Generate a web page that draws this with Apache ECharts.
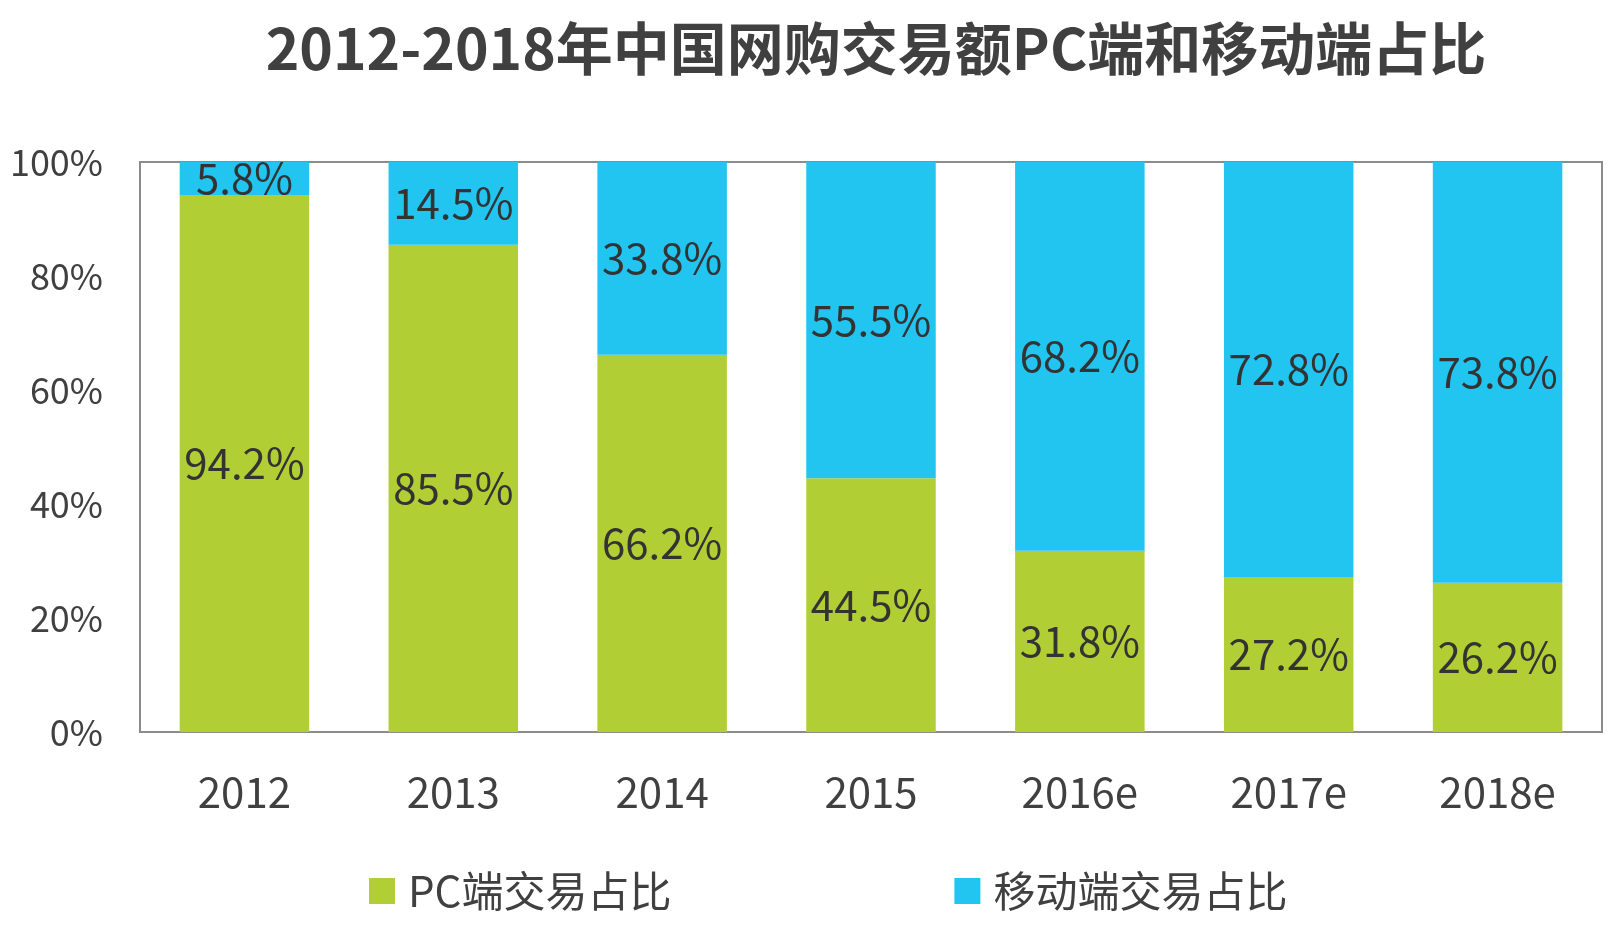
<!DOCTYPE html>
<html>
<head>
<meta charset="utf-8">
<script src="https://cdn.jsdelivr.net/npm/echarts@6/dist/echarts.min.js"></script>
<style>
html,body{margin:0;padding:0;background:#fff;}
#main{width:1616px;height:925px;}
</style>
</head>
<body>
<div id="main"></div>
<script>
const categories = ['2012','2013','2014','2015','2016e','2017e','2018e'];
const pcShare = [94.2, 85.5, 66.2, 44.5, 31.8, 27.2, 26.2];
const mobileShare = [5.8, 14.5, 33.8, 55.5, 68.2, 72.8, 73.8];
const yTicks = [0, 20, 40, 60, 80, 100];
const seriesNames = ['PC端交易占比', '移动端交易占比'];
const titleText = '2012-2018年中国网购交易额PC端和移动端占比';

const FONT = '"Noto Sans CJK SC", "Open Sans", sans-serif';
const chart = echarts.init(document.getElementById('main'));
const labelStyle = {
  show: true,
  position: 'inside',
  color: '#333333',
  fontSize: 42,
  fontFamily: FONT,
  formatter: p => p.value.toFixed(1) + '%'
};
chart.setOption({
  backgroundColor: '#ffffff',
  animation: false,
  title: {
    text: titleText,
    left: 871,
    textAlign: 'center',
    top: 15,
    textStyle: { fontSize: 57, fontWeight: 'bold', color: '#404040', fontFamily: FONT }
  },
  legend: {
    left: 364,
    top: 865,
    itemWidth: 26,
    itemHeight: 26,
    itemGap: 283,
    icon: 'rect',
    textStyle: { fontSize: 42, color: '#404040', fontFamily: FONT, padding: [0, 0, 0, 8] },
    data: seriesNames
  },
  grid: {
    left: 140, right: 14, top: 162, bottom: 193,
    show: true, borderColor: '#8c8c8c', borderWidth: 2, containLabel: false
  },
  xAxis: {
    type: 'category',
    data: categories,
    axisLine: { show: true, lineStyle: { color: '#8c8c8c', width: 2 } },
    axisTick: { show: false },
    axisLabel: { fontSize: 42, color: '#404040', fontFamily: FONT, margin: 39 }
  },
  yAxis: {
    type: 'value',
    min: yTicks[0],
    max: yTicks[yTicks.length - 1],
    interval: 20,
    axisLine: { show: true, lineStyle: { color: '#8c8c8c', width: 2 } },
    axisTick: { show: false },
    splitLine: { show: false },
    axisLabel: { fontSize: 36, color: '#404040', fontFamily: FONT, margin: 37, formatter: v => v + '%' }
  },
  series: [
    {
      name: seriesNames[0], type: 'bar', stack: 'total', data: pcShare,
      barWidth: '62%', itemStyle: { color: '#B1CF34' }, label: labelStyle
    },
    {
      name: seriesNames[1], type: 'bar', stack: 'total', data: mobileShare,
      barWidth: '62%', itemStyle: { color: '#21C5F0' }, label: labelStyle
    }
  ]
});
</script>
</body>
</html>
